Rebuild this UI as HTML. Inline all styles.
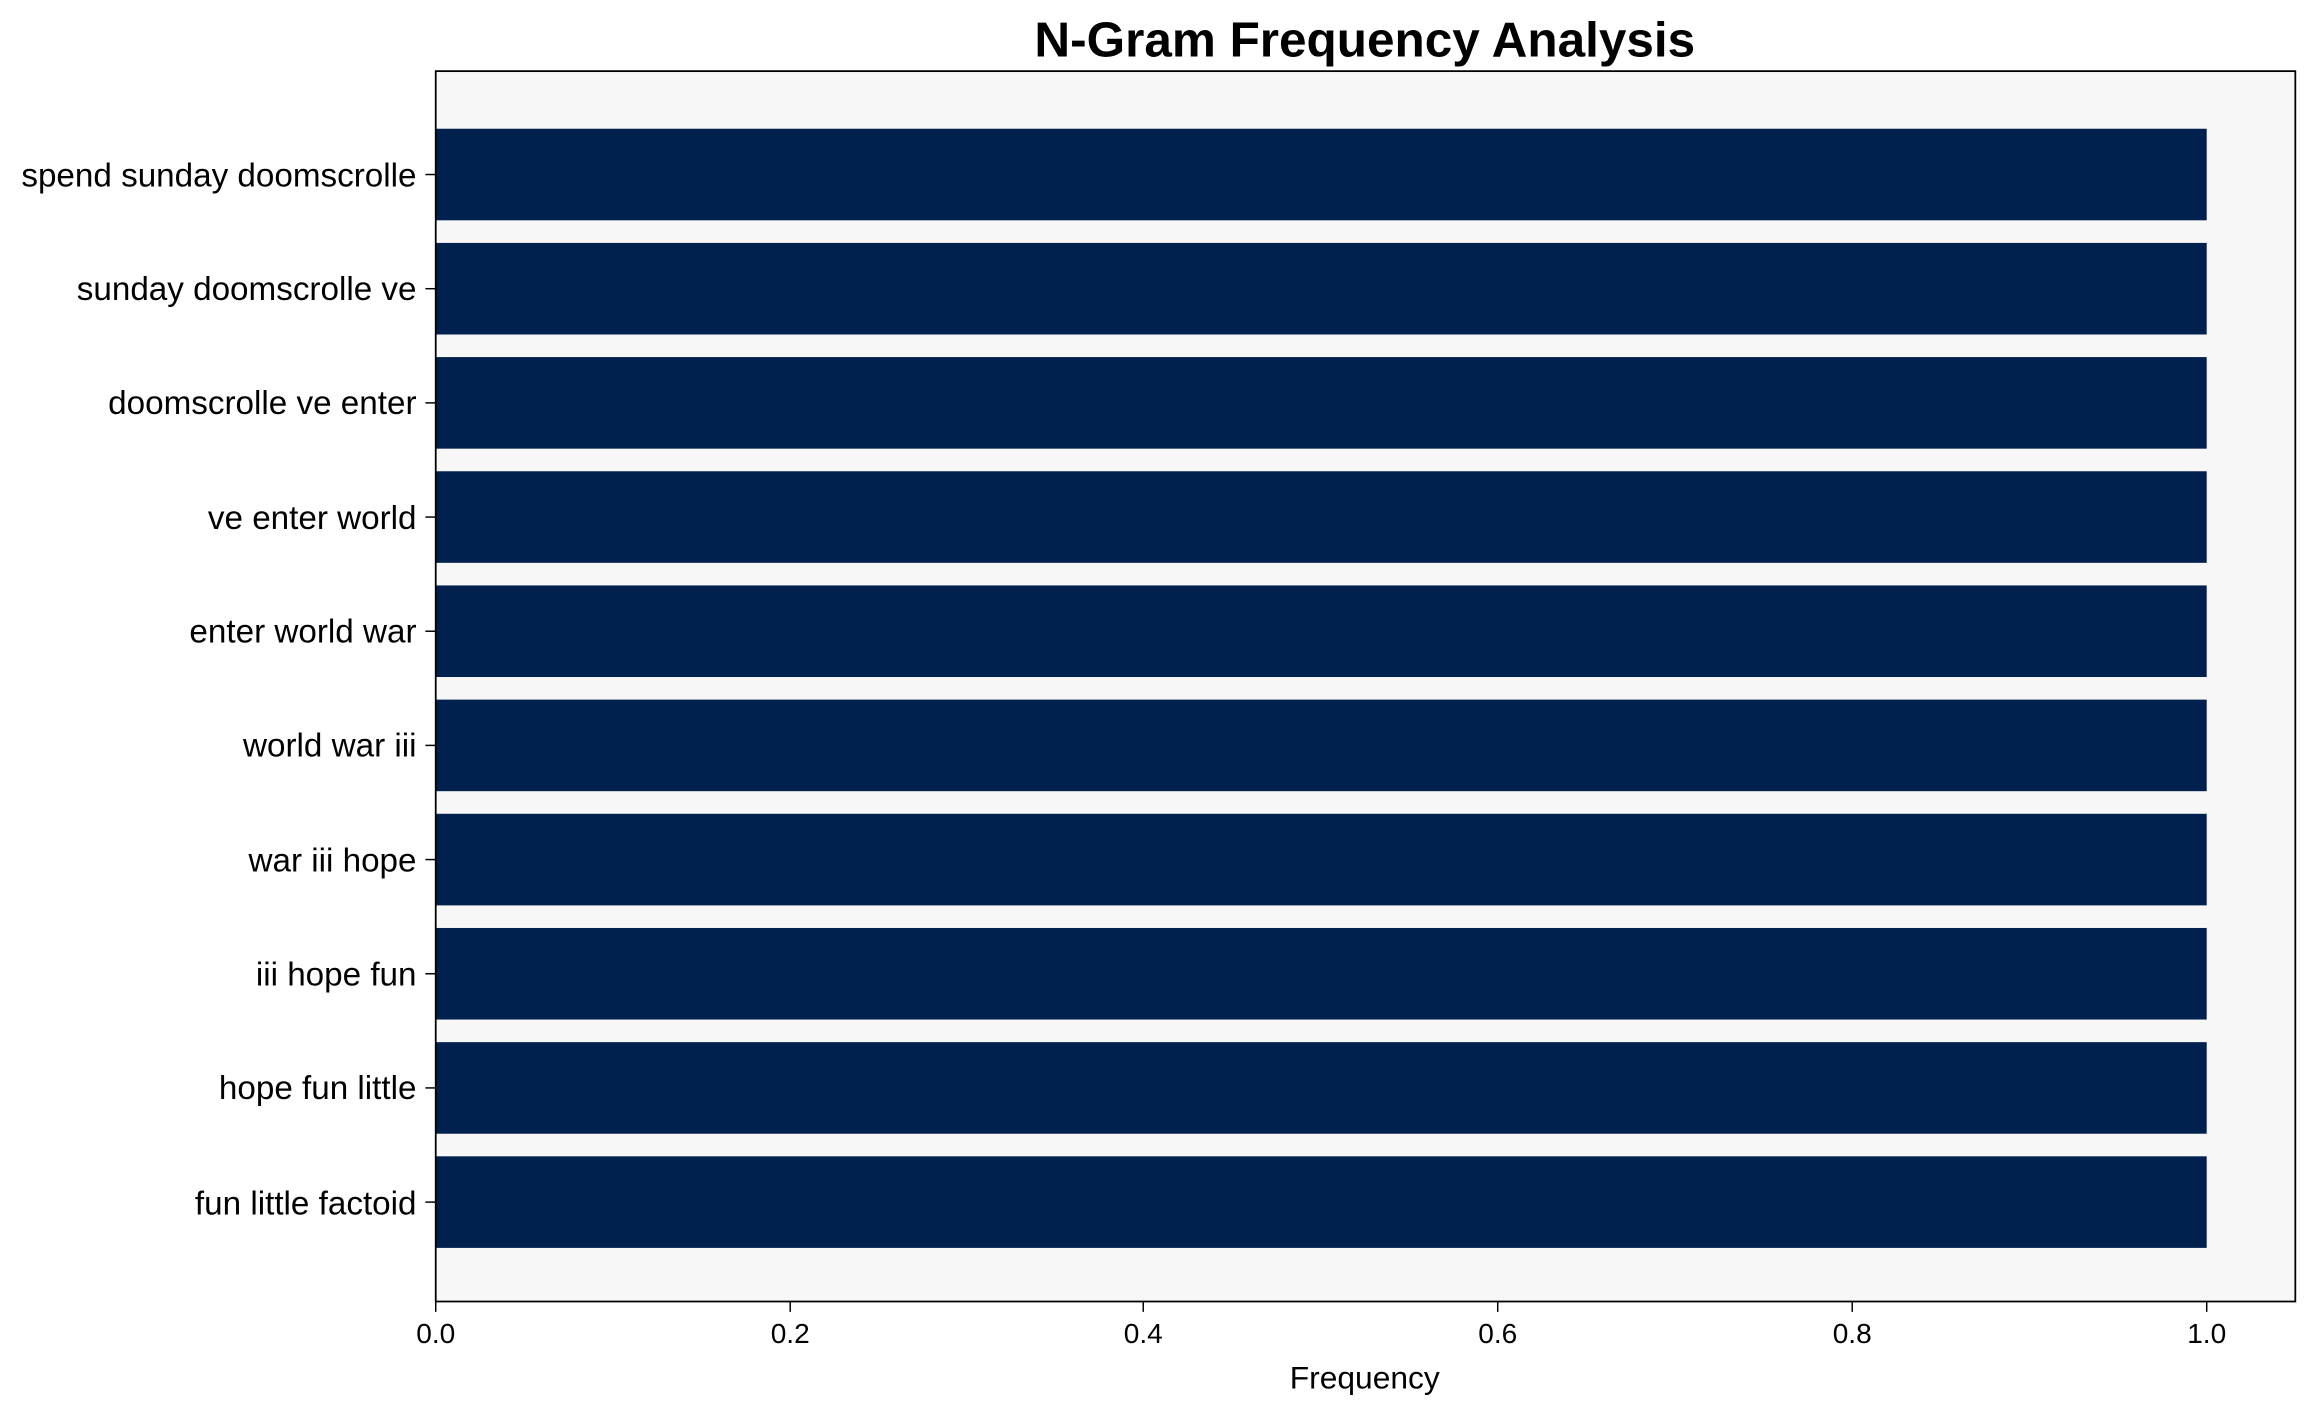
<!DOCTYPE html>
<html><head><meta charset="utf-8"><style>
html,body{margin:0;padding:0;background:#fff;}
svg{display:block;font-family:"Liberation Sans",Arial,sans-serif;}
</style></head><body>
<svg width="2316" height="1414" viewBox="0 0 1568 957" xmlns="http://www.w3.org/2000/svg">
<rect width="1568" height="957" fill="#fff"/>
<text x="924" y="38" text-anchor="middle" font-size="33.5" font-weight="bold" fill="#000">N-Gram Frequency Analysis</text>
<rect x="295" y="48" width="1259" height="833" fill="#f7f7f7"/>
<g fill="#00204e">
<rect x="295" y="87" width="1199" height="62"/>
<rect x="295" y="164.3" width="1199" height="62"/>
<rect x="295" y="241.6" width="1199" height="62"/>
<rect x="295" y="318.9" width="1199" height="62"/>
<rect x="295" y="396.2" width="1199" height="62"/>
<rect x="295" y="473.5" width="1199" height="62"/>
<rect x="295" y="550.8" width="1199" height="62"/>
<rect x="295" y="628.1" width="1199" height="62"/>
<rect x="295" y="705.4" width="1199" height="62"/>
<rect x="295" y="782.7" width="1199" height="62"/>
</g>
<rect x="295" y="48" width="1259" height="833" fill="none" stroke="#000" stroke-width="1.2"/>
<g stroke="#000" stroke-width="1">
<line x1="288" x2="295" y1="118" y2="118"/><line x1="288" x2="295" y1="195.3" y2="195.3"/>
<line x1="288" x2="295" y1="272.6" y2="272.6"/><line x1="288" x2="295" y1="349.9" y2="349.9"/>
<line x1="288" x2="295" y1="427.2" y2="427.2"/><line x1="288" x2="295" y1="504.5" y2="504.5"/>
<line x1="288" x2="295" y1="581.8" y2="581.8"/><line x1="288" x2="295" y1="659.1" y2="659.1"/>
<line x1="288" x2="295" y1="736.4" y2="736.4"/><line x1="288" x2="295" y1="813.7" y2="813.7"/>
<line x1="295" x2="295" y1="881" y2="888"/><line x1="535" x2="535" y1="881" y2="888"/>
<line x1="774" x2="774" y1="881" y2="888"/><line x1="1014" x2="1014" y1="881" y2="888"/>
<line x1="1254" x2="1254" y1="881" y2="888"/><line x1="1494" x2="1494" y1="881" y2="888"/>
</g>
<g font-size="22.5" fill="#000" text-anchor="end">
<text x="282" y="126">spend sunday doomscrolle</text>
<text x="282" y="203">sunday doomscrolle ve</text>
<text x="282" y="280">doomscrolle ve enter</text>
<text x="282" y="358">ve enter world</text>
<text x="282" y="435">enter world war</text>
<text x="282" y="512">world war iii</text>
<text x="282" y="590">war iii hope</text>
<text x="282" y="667">iii hope fun</text>
<text x="282" y="744">hope fun little</text>
<text x="282" y="822">fun little factoid</text>
</g>
<g font-size="19" fill="#000" text-anchor="middle">
<text x="295" y="909">0.0</text><text x="535" y="909">0.2</text><text x="774" y="909">0.4</text>
<text x="1014" y="909">0.6</text><text x="1254" y="909">0.8</text><text x="1494" y="909">1.0</text>
</g>
<text x="924" y="940" text-anchor="middle" font-size="21.5" fill="#000">Frequency</text>
</svg>
</body></html>
